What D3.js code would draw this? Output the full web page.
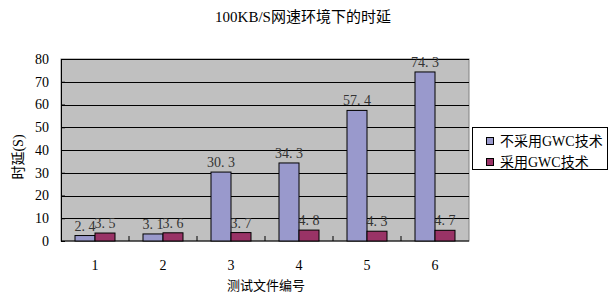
<!DOCTYPE html>
<html>
<head>
<meta charset="utf-8">
<script src="https://cdn.jsdelivr.net/npm/d3@7"></script>
<style>
body { margin: 0; background: #fff; }
text { font-family: "Liberation Serif", "Noto Sans CJK SC", serif; fill: #000; }
</style>
</head>
<body>
<script>
const categories = ['1', '2', '3', '4', '5', '6']
const seriesNames = ['不采用GWC技术', '采用GWC技术']
const noGwc = [2.4, 3.1, 30.3, 34.3, 57.4, 74.3]
const withGwc = [3.5, 3.6, 3.7, 4.8, 4.3, 4.7]
const yTicks = [0, 10, 20, 30, 40, 50, 60, 70, 80]
const colors = ['#9999cc', '#993366']

const w = 610
const h = 294
const plotLeft = 61, plotRight = 469, plotTop = 59, plotBottom = 241

const svg = d3.select('body')
     .append('svg')
     .attr('width', w)
     .attr('height', h)

svg.append('text')
     .attr('x', 303)
     .attr('y', 22)
     .attr('text-anchor', 'middle')
     .style('font-size', '15px')
     .text('100KB/S网速环境下的时延')

const xScale = d3.scaleBand()
     .domain(categories)
     .range([plotLeft, plotRight])

const xInner = d3.scaleBand()
     .domain([0, 1])
     .range([0, 40])

const yScale = d3.scaleLinear()
     .domain([0, 80])
     .range([plotBottom, plotTop])

svg.append('rect')
     .attr('x', plotLeft)
     .attr('y', plotTop)
     .attr('width', plotRight - plotLeft)
     .attr('height', plotBottom - plotTop)
     .attr('fill', '#c0c0c0')
     .attr('stroke', '#808080')

svg.selectAll('.grid')
     .data(yTicks.filter(d => d > 0))
     .enter()
     .append('line')
     .attr('x1', plotLeft)
     .attr('x2', plotRight)
     .attr('y1', d => Math.round(yScale(d)) + 0.5)
     .attr('y2', d => Math.round(yScale(d)) + 0.5)
     .attr('stroke', '#000')
     .attr('stroke-width', 1)

const yAxis = d3.axisLeft(yScale).tickValues(yTicks).tickSize(4).tickSizeOuter(0)
svg.append('g')
     .attr('transform', 'translate(' + plotLeft + ',0)')
     .call(yAxis)
     .call(g => g.select('.domain').attr('stroke', '#000'))
     .call(g => g.selectAll('.tick line').attr('x2', 4).attr('stroke', '#000'))
     .call(g => g.selectAll('.tick text').attr('x', -12).style('font-size', '14px').attr('font-family', null))

// x axis line with small ticks between categories
svg.append('line')
     .attr('x1', plotLeft).attr('x2', plotRight)
     .attr('y1', plotBottom).attr('y2', plotBottom)
     .attr('stroke', '#000')

svg.selectAll('.xtick')
     .data(categories.slice(1))
     .enter()
     .append('line')
     .attr('x1', d => xScale(d))
     .attr('x2', d => xScale(d))
     .attr('y1', plotBottom)
     .attr('y2', plotBottom - 5)
     .attr('stroke', '#000')

svg.selectAll('.xlabel')
     .data(categories)
     .enter()
     .append('text')
     .attr('x', d => xScale(d) + xScale.bandwidth() / 2)
     .attr('y', 270)
     .attr('text-anchor', 'middle')
     .style('font-size', '14px')
     .text(d => d)

const series = [noGwc, withGwc]
series.forEach((vals, si) => {
     const g = svg.append('g')
     const off = (xScale.bandwidth() - 40) / 2
     g.selectAll('rect')
          .data(vals)
          .enter()
          .append('rect')
          .attr('x', (d, i) => xScale(categories[i]) + off + xInner(si))
          .attr('y', d => yScale(d))
          .attr('width', xInner.bandwidth())
          .attr('height', d => plotBottom - yScale(d))
          .attr('fill', colors[si])
          .attr('stroke', '#000')
          .attr('stroke-width', 1)
     g.selectAll('text')
          .data(vals)
          .enter()
          .append('text')
          .attr('x', (d, i) => xScale(categories[i]) + off + xInner(si) + xInner.bandwidth() / 2)
          .attr('y', d => yScale(d) - 5)
          .attr('text-anchor', 'middle')
          .style('font-size', '14px')
          .style('fill', '#333')
          .text(d => d.toFixed(1).replace('.', '. '))
})

svg.append('text')
     .attr('transform', 'translate(23,157) rotate(-90)')
     .attr('text-anchor', 'middle')
     .style('font-size', '14px')
     .text('时延(S)')

svg.append('text')
     .attr('x', 266)
     .attr('y', 290)
     .attr('text-anchor', 'middle')
     .style('font-size', '13px')
     .text('测试文件编号')

const legend = svg.append('g')
legend.append('rect')
     .attr('x', 472.5)
     .attr('y', 127.5)
     .attr('width', 135)
     .attr('height', 42)
     .attr('fill', '#fff')
     .attr('stroke', '#000')

seriesNames.forEach((name, i) => {
     legend.append('rect')
          .attr('x', 486.5)
          .attr('y', 137.5 + i * 21)
          .attr('width', 7)
          .attr('height', 7)
          .attr('fill', colors[i])
          .attr('stroke', '#000')
     legend.append('text')
          .attr('x', 500)
          .attr('y', 146 + i * 21)
          .style('font-size', '14px')
          .text(name)
})
</script>
</body>
</html>
